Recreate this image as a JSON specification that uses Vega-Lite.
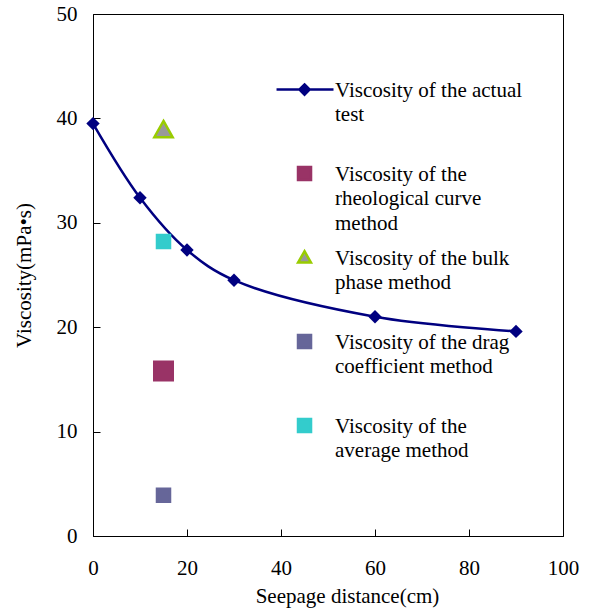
{
  "$schema": "https://vega.github.io/schema/vega-lite/v6.json",
  "width": 470,
  "height": 522,
  "autosize": "none",
  "padding": {"left": 93, "top": 14, "right": 28, "bottom": 76},
  "background": "white",
  "config": {
    "view": {"stroke": "black", "strokeWidth": 1},
    "axis": {
      "domainColor": "black", "tickColor": "black", "grid": false,
      "tickSize": -7, "labelFont": "Liberation Serif", "labelFontSize": 21,
      "labelColor": "black", "titleFont": "Liberation Serif", "titleFontSize": 21,
      "titleFontWeight": "normal", "titleColor": "black", "labelFlush": false,
      "labelOverlap": false
    },
    "style": {"guide-label": {"lineHeight": 24.5}}
  },
  "datasets": {
    "actual": [
      {"distance": 0, "viscosity": 39.5},
      {"distance": 10, "viscosity": 32.4},
      {"distance": 20, "viscosity": 27.4},
      {"distance": 30, "viscosity": 24.5},
      {"distance": 60, "viscosity": 21.0},
      {"distance": 90, "viscosity": 19.6}
    ],
    "methods": [
      {"distance": 15, "viscosity": 15.8, "series": "Viscosity of the rheological curve method"},
      {"distance": 15, "viscosity": 38.9, "series": "Viscosity of the bulk phase method"},
      {"distance": 15, "viscosity": 3.9, "series": "Viscosity of the drag coefficient method"},
      {"distance": 15, "viscosity": 28.2, "series": "Viscosity of the average method"}
    ]
  },
  "layer": [
    {
      "data": {"name": "actual"},
      "mark": {"type": "line", "interpolate": "catmull-rom", "color": "#000080", "strokeWidth": 2.5},
      "encoding": {
        "x": {"field": "distance", "type": "quantitative", "scale": {"domain": [0, 100], "nice": false},
              "axis": {"title": "Seepage distance(cm)", "values": [0, 20, 40, 60, 80, 100], "labelPadding": 28, "titlePadding": 7, "titleX": 254}},
        "y": {"field": "viscosity", "type": "quantitative", "scale": {"domain": [0, 50], "nice": false},
              "axis": {"title": "Viscosity(mPa•s)", "values": [0, 10, 20, 30, 40, 50], "labelPadding": 23, "titlePadding": 22}}
      }
    },
    {
      "data": {"name": "actual"},
      "mark": {"type": "point", "shape": "diamond", "filled": true, "color": "#000080", "size": 180, "opacity": 1},
      "encoding": {
        "x": {"field": "distance", "type": "quantitative"},
        "y": {"field": "viscosity", "type": "quantitative"}
      }
    },
    {
      "data": {"name": "methods"},
      "mark": {"type": "point", "opacity": 0, "strokeWidth": 2.5, "size": 196},
      "encoding": {
        "x": {"field": "distance", "type": "quantitative"},
        "y": {"field": "viscosity", "type": "quantitative"},
        "fill": {"field": "series", "type": "nominal",
          "scale": {"domain": ["Viscosity of the actual test", "Viscosity of the rheological curve method", "Viscosity of the bulk phase method", "Viscosity of the drag coefficient method", "Viscosity of the average method"],
                    "range": ["#000080", "#993366", "#999999", "#666699", "#33CCCC"]},
          "legend": {"title": null, "orient": "none", "legendX": 181, "legendY": 55, "symbolSize": 196, "symbolStrokeWidth": 2.5, "symbolOpacity": 1, "labelFont": "Liberation Serif", "labelFontSize": 21, "labelColor": "black", "labelBaseline": "top", "labelOffset": 40, "labelLimit": 300, "rowPadding": 3, "padding": 0,
            "labelExpr": "datum.label == 'Viscosity of the actual test' ? ['Viscosity of the actual', 'test', ''] : datum.label == 'Viscosity of the rheological curve method' ? ['Viscosity of the', 'rheological curve', 'method'] : datum.label == 'Viscosity of the bulk phase method' ? ['Viscosity of the bulk', 'phase method', ''] : datum.label == 'Viscosity of the drag coefficient method' ? ['Viscosity of the drag', 'coefficient method', ''] : ['Viscosity of the', 'average method', '']"}},
        "stroke": {"field": "series", "type": "nominal",
          "scale": {"domain": ["Viscosity of the actual test", "Viscosity of the rheological curve method", "Viscosity of the bulk phase method", "Viscosity of the drag coefficient method", "Viscosity of the average method"],
                    "range": ["#000080", "#993366", "#99CC00", "#666699", "#33CCCC"]},
          "legend": {"title": null, "orient": "none", "legendX": 181, "legendY": 55, "symbolSize": 196, "symbolStrokeWidth": 2.5, "symbolOpacity": 1, "labelFont": "Liberation Serif", "labelFontSize": 21, "labelColor": "black", "labelBaseline": "top", "labelOffset": 40, "labelLimit": 300, "rowPadding": 3, "padding": 0,
            "labelExpr": "datum.label == 'Viscosity of the actual test' ? ['Viscosity of the actual', 'test', ''] : datum.label == 'Viscosity of the rheological curve method' ? ['Viscosity of the', 'rheological curve', 'method'] : datum.label == 'Viscosity of the bulk phase method' ? ['Viscosity of the bulk', 'phase method', ''] : datum.label == 'Viscosity of the drag coefficient method' ? ['Viscosity of the drag', 'coefficient method', ''] : ['Viscosity of the', 'average method', '']"}},
        "shape": {"field": "series", "type": "nominal",
          "scale": {"domain": ["Viscosity of the actual test", "Viscosity of the rheological curve method", "Viscosity of the bulk phase method", "Viscosity of the drag coefficient method", "Viscosity of the average method"],
                    "range": ["M-1.14,1.43H7.0M2.86,0.7L3.59,1.43L2.86,2.16L2.13,1.43Z", "M1.93,0.5H3.79V2.36H1.93Z", "M2.86,0.53L3.78,2.16L1.94,2.16Z", "M1.93,0.5H3.79V2.36H1.93Z", "M1.93,0.5H3.79V2.36H1.93Z"]},
          "legend": {"title": null, "orient": "none", "legendX": 181, "legendY": 55, "symbolSize": 196, "symbolStrokeWidth": 2.5, "symbolOpacity": 1, "labelFont": "Liberation Serif", "labelFontSize": 21, "labelColor": "black", "labelBaseline": "top", "labelOffset": 40, "labelLimit": 300, "rowPadding": 3, "padding": 0,
            "labelExpr": "datum.label == 'Viscosity of the actual test' ? ['Viscosity of the actual', 'test', ''] : datum.label == 'Viscosity of the rheological curve method' ? ['Viscosity of the', 'rheological curve', 'method'] : datum.label == 'Viscosity of the bulk phase method' ? ['Viscosity of the bulk', 'phase method', ''] : datum.label == 'Viscosity of the drag coefficient method' ? ['Viscosity of the drag', 'coefficient method', ''] : ['Viscosity of the', 'average method', '']"}}
      }
    },
    {
      "data": {"name": "methods"},
      "transform": [{"filter": {"field": "series", "equal": "Viscosity of the rheological curve method"}}],
      "mark": {"type": "point", "opacity": 1, "strokeWidth": 2.5, "size": 7270, "shape": "M-0.217,-0.217H0.217V0.217H-0.217Z"},
      "encoding": {
        "x": {"field": "distance", "type": "quantitative"},
        "y": {"field": "viscosity", "type": "quantitative"},
        "fill": {"field": "series", "type": "nominal"},
        "stroke": {"field": "series", "type": "nominal"}
      }
    },
    {
      "data": {"name": "methods"},
      "transform": [{"filter": {"field": "series", "equal": "Viscosity of the bulk phase method"}}],
      "mark": {"type": "point", "opacity": 1, "strokeWidth": 2.5, "size": 7270, "shape": "M0,-0.21L0.215,0.17L-0.215,0.17Z"},
      "encoding": {
        "x": {"field": "distance", "type": "quantitative"},
        "y": {"field": "viscosity", "type": "quantitative"},
        "fill": {"field": "series", "type": "nominal"},
        "stroke": {"field": "series", "type": "nominal"}
      }
    },
    {
      "data": {"name": "methods"},
      "transform": [{"filter": {"field": "series", "oneOf": ["Viscosity of the drag coefficient method", "Viscosity of the average method"]}}],
      "mark": {"type": "point", "opacity": 1, "strokeWidth": 2.5, "size": 3600, "shape": "M-0.217,-0.217H0.217V0.217H-0.217Z"},
      "encoding": {
        "x": {"field": "distance", "type": "quantitative"},
        "y": {"field": "viscosity", "type": "quantitative"},
        "fill": {"field": "series", "type": "nominal"},
        "stroke": {"field": "series", "type": "nominal"}
      }
    }
  ]
}
